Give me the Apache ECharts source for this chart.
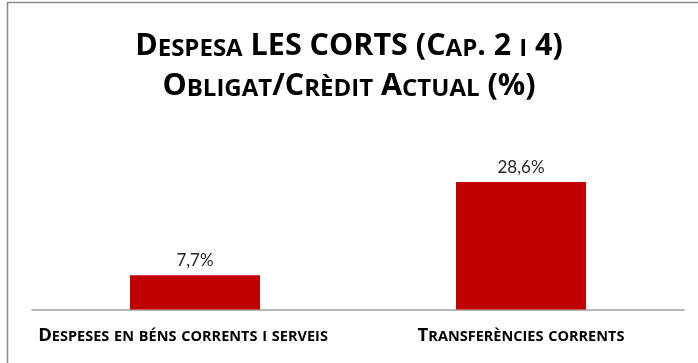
<!DOCTYPE html>
<html>
<head>
<meta charset="utf-8">
<script src="https://cdn.jsdelivr.net/npm/echarts@6/dist/echarts.min.js"></script>
<style>
  html, body { margin: 0; padding: 0; background: #fff; }
  #chart { width: 698px; height: 363px; }
</style>
</head>
<body>
<div id="chart"></div>
<script>
// Budget execution: obligated vs. current credit, chapters 2 and 4
const titleLines = ['Despesa LES CORTS (Cap. 2 i 4)', 'Obligat/Crèdit Actual (%)'];
const categories = ['Despeses en béns corrents i serveis', 'Transferències corrents'];
const values = [7.7, 28.6];

const HEAD_FONT = 'Open Sans';
const LABEL_FONT = 'Lato';

// Emulate small caps with rich text: capitals and symbols stay full size,
// lowercase letters become smaller capitals.
function smallCaps(text, big, small) {
  let out = '';
  let cur = null, buf = '';
  const flush = () => { if (buf) out += '{' + cur + '|' + buf + '}'; buf = ''; };
  for (const ch of text) {
    const isLower = ch !== ch.toUpperCase();
    const key = isLower ? small : big;
    if (key !== cur) { flush(); cur = key; }
    buf += isLower ? ch.toUpperCase() : ch;
  }
  flush();
  return out;
}

const chart = echarts.init(document.getElementById('chart'), null, { renderer: 'canvas' });

chart.setOption({
  backgroundColor: '#ffffff',
  animation: false,
  graphic: [{
    type: 'rect',
    shape: { x: 7.5, y: 2.5, width: 800, height: 500 },
    style: { fill: 'none', stroke: '#8c8c8c', lineWidth: 1.5 },
    silent: true
  }],
  title: {
    left: 'center',
    top: 17,
    text: titleLines.map(t => smallCaps(t, 'b', 's')).join('\n'),
    textStyle: {
      rich: {
        b: { fontFamily: HEAD_FONT, fontWeight: 'bold', fontSize: 30.5, color: '#000', lineHeight: 40, verticalAlign: 'bottom' },
        s: { fontFamily: HEAD_FONT, fontWeight: 'bold', fontSize: 24, color: '#000', lineHeight: 40, verticalAlign: 'bottom', padding: [0, 0, 1, 0] }
      }
    }
  },
  grid: { left: 32, right: 14, top: 153.5, bottom: 53.5, containLabel: false },
  xAxis: {
    type: 'category',
    data: categories,
    axisTick: { show: false },
    axisLine: { lineStyle: { color: '#a0a0a0', width: 1.5 } },
    axisLabel: {
      margin: 18,
      interval: 0,
      formatter: (v, i) => smallCaps(v, 'b', 's') + (i === 0 ? '{sp|}' : ''),
      rich: {
        b: { fontFamily: HEAD_FONT, fontWeight: 'bold', fontSize: 18.5, color: '#000', lineHeight: 18, verticalAlign: 'bottom' },
        s: { fontFamily: HEAD_FONT, fontWeight: 'bold', fontSize: 14.5, color: '#000', lineHeight: 18, verticalAlign: 'bottom', padding: [0, 0, 1, 0] },
        sp: { width: 24 }
      }
    }
  },
  yAxis: {
    type: 'value',
    min: 0,
    max: 35,
    show: false,
    splitLine: { show: false }
  },
  series: [{
    type: 'bar',
    data: values,
    barWidth: 130,
    itemStyle: { color: '#c00000' },
    label: {
      show: true,
      position: 'top',
      distance: 6,
      fontFamily: LABEL_FONT,
      fontSize: 17,
      color: '#262626',
      formatter: p => p.value.toFixed(1).replace('.', ',') + '%'
    }
  }]
});
</script>
</body>
</html>
